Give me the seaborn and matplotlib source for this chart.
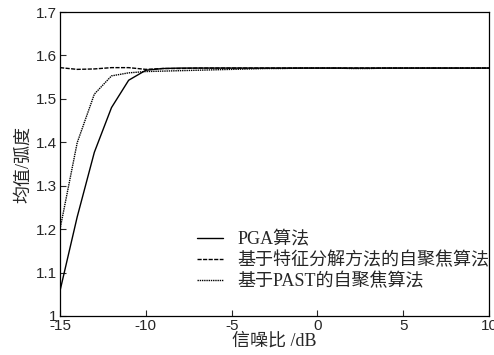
import matplotlib
matplotlib.use("Agg")
import matplotlib.pyplot as plt
import seaborn as sns
import pandas as pd

snr = [-15, -14, -13, -12, -11, -10, -9, -8, -7, -6, -5, -4, -3, -2, -1,
       0, 1, 2, 3, 4, 5, 6, 7, 8, 9, 10]
pga = [1.058, 1.228, 1.377, 1.480, 1.543, 1.566, 1.570, 1.571, 1.571, 1.571,
       1.571, 1.571, 1.571, 1.571, 1.571, 1.571, 1.571, 1.571, 1.571, 1.571,
       1.571, 1.571, 1.571, 1.571, 1.571, 1.571]
eig = [1.572, 1.568, 1.569, 1.572, 1.572, 1.568, 1.570, 1.570, 1.571, 1.571,
       1.571, 1.571, 1.571, 1.571, 1.571, 1.571, 1.571, 1.571, 1.571, 1.571,
       1.571, 1.571, 1.571, 1.571, 1.571, 1.571]
past = [1.200, 1.399, 1.511, 1.553, 1.560, 1.563, 1.564, 1.565, 1.566, 1.567,
        1.568, 1.569, 1.570, 1.570, 1.571, 1.571, 1.571, 1.570, 1.570, 1.571,
        1.571, 1.571, 1.571, 1.571, 1.571, 1.571]
names = ["PGA算法", "基于特征分解方法的自聚焦算法", "基于PAST的自聚焦算法"]

df = pd.DataFrame({
    "snr": snr * 3,
    "val": pga + eig + past,
    "method": [names[0]] * len(snr) + [names[1]] * len(snr) + [names[2]] * len(snr),
})

sns.set_style("ticks")
plt.rcParams['font.family'] = ['Liberation Sans', 'Noto Sans CJK SC']
plt.rcParams['axes.unicode_minus'] = False
serif_cjk = ['Liberation Serif', 'Noto Sans CJK SC']

fig = plt.figure(figsize=(4.94, 3.55), dpi=100)
ax = fig.add_axes([0.1215, 0.11, 0.8685, 0.856])

sns.lineplot(data=df, x="snr", y="val", hue="method", style="method",
             palette=["black"] * 3,
             dashes=[(None, None), (3, 1), (1, 0.6)],
             linewidth=1.0, ax=ax)

ax.set_xlim(-15, 10)
ax.set_ylim(1, 1.7)
ax.set_xticks([-15, -10, -5, 0, 5, 10])
ax.set_yticks([1, 1.1, 1.2, 1.3, 1.4, 1.5, 1.6, 1.7])
ax.set_yticklabels(["1", "1.1", "1.2", "1.3", "1.4", "1.5", "1.6", "1.7"])
ax.tick_params(direction="in", length=4, labelsize=11, width=0.8, pad=2)
for s in ax.spines.values():
    s.set_linewidth(0.9)
    s.set_color("black")

ax.set_xlabel("信噪比 /dB", fontsize=13, family=serif_cjk, labelpad=0)
ax.set_ylabel("均值/弧度", fontsize=13, family=serif_cjk, labelpad=3)

leg = ax.legend(loc="lower right", bbox_to_anchor=(1.0, 0.085), frameon=False,
                borderaxespad=0, borderpad=0,
                handlelength=1.4, handletextpad=0.8, labelspacing=0.2,
                prop={'family': serif_cjk, 'size': 13})

fig.savefig("out.png", dpi=100)
